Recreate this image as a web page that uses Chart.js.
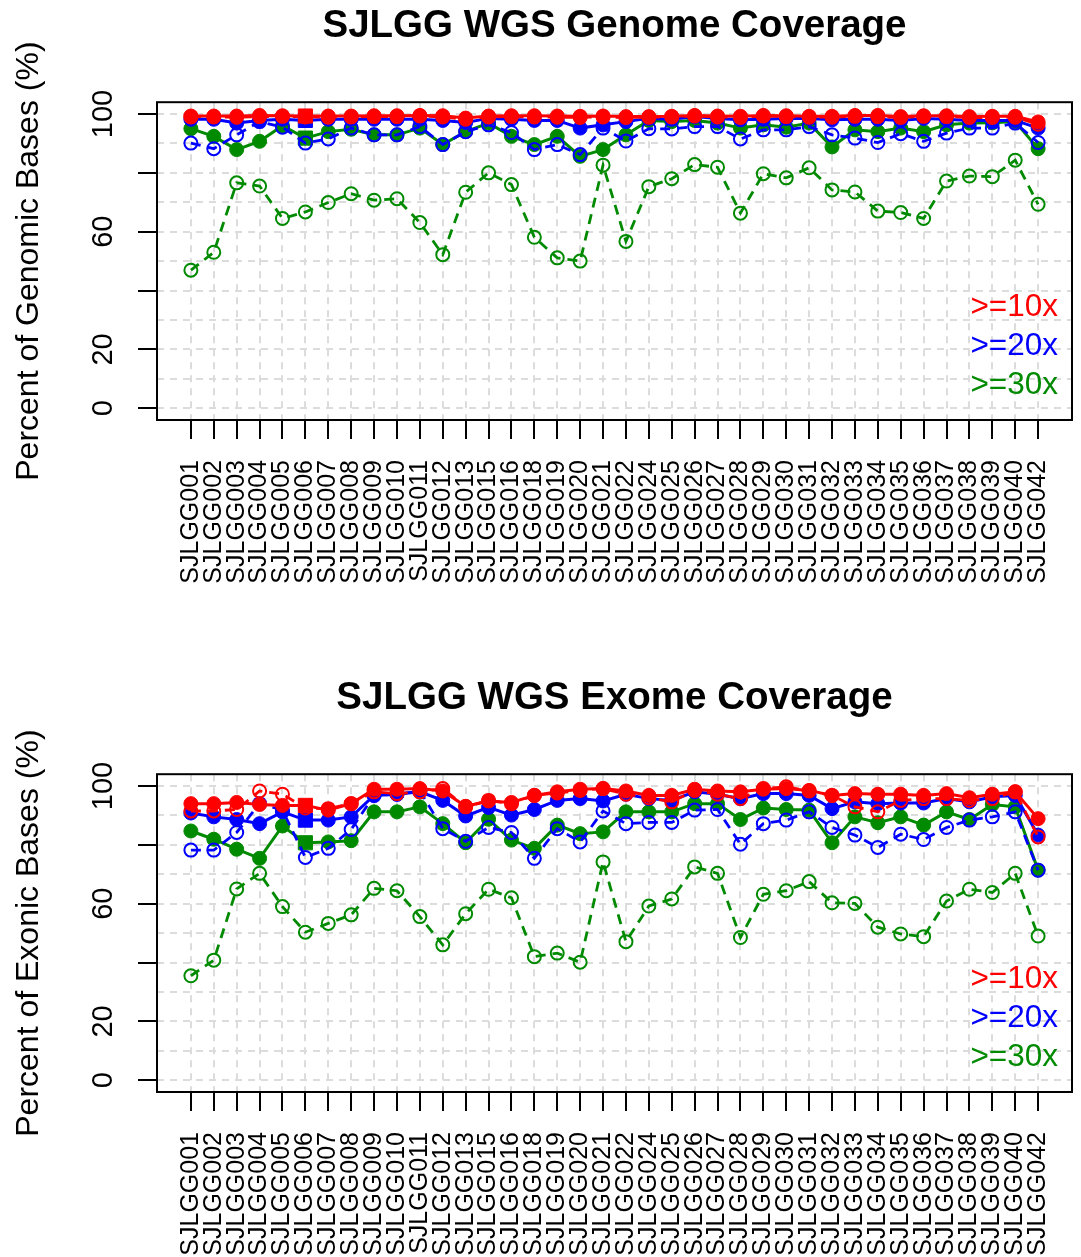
<!DOCTYPE html>
<html>
<head>
<meta charset="utf-8">
<script src="https://cdn.jsdelivr.net/npm/chart.js@4.4.0/dist/chart.umd.min.js"></script>
<style>
  html, body { margin: 0; padding: 0; background: #fff; overflow: hidden; }
  body { width: 1081px; height: 1257px; position: relative; }
  .panel { position: absolute; left: 0; width: 1081px; height: 672px; }
</style>
</head>
<body>
<div class="panel" style="top:0"><canvas id="genomeChart"></canvas></div>
<div class="panel" style="top:672px"><canvas id="exomeChart"></canvas></div>
<script>
// samples on the x axis
const samples = ['SJLGG001', 'SJLGG002', 'SJLGG003', 'SJLGG004', 'SJLGG005', 'SJLGG006', 'SJLGG007', 'SJLGG008',
  'SJLGG009', 'SJLGG010', 'SJLGG011', 'SJLGG012', 'SJLGG013', 'SJLGG015', 'SJLGG016', 'SJLGG018', 'SJLGG019',
  'SJLGG020', 'SJLGG021', 'SJLGG022', 'SJLGG024', 'SJLGG025', 'SJLGG026', 'SJLGG027', 'SJLGG028', 'SJLGG029',
  'SJLGG030', 'SJLGG031', 'SJLGG032', 'SJLGG033', 'SJLGG034', 'SJLGG035', 'SJLGG036', 'SJLGG037', 'SJLGG038',
  'SJLGG039', 'SJLGG040', 'SJLGG042'];

// genome coverage (solid = filled points, dashed = open points)
const genome10 = [99.3, 99.3, 99.3, 99.5, 99.4, 99.3, 99.3, 99.3, 99.4, 99.4, 99.5, 99.4, 98.6, 99.3, 99.4, 99.4, 99.3, 99.2, 99.3,
  99.1, 99.1, 99.2, 99.5, 99.3, 99.2, 99.5, 99.4, 99.2, 99.2, 99.5, 99.5, 99.1, 99.4, 99.4, 99.1, 99.2, 99.2, 97.3];
const genome10b = [99.0, 99.0, 98.9, 99.1, 99.2, 99.0, 98.9, 99.0, 99.1, 99.1, 99.3, 99.0, 98.2, 99.0, 99.1, 99.0, 98.9, 98.8, 99.0,
  98.8, 98.9, 99.0, 99.3, 99.0, 98.8, 99.3, 99.1, 98.9, 98.9, 99.2, 99.1, 98.8, 99.2, 99.1, 98.8, 98.8, 98.9, 96.5];
const genome20 = [98.2, 98.2, 96.9, 97.8, 98.2, 97.8, 98.2, 98.2, 98.2, 98.2, 98.2, 97.8, 97.1, 98.5, 98.2, 97.8, 97.8, 95.2, 96.3,
  97.4, 98.5, 98.2, 99.1, 98.5, 98.0, 98.2, 98.5, 98.5, 98.0, 98.2, 98.2, 97.8, 98.5, 98.2, 97.8, 97.8, 97.8, 95.2];
const genome20b = [90.1, 88.2, 92.9, 97.4, 95.5, 90.1, 91.5, 95.2, 92.9, 92.9, 95.7, 89.6, 94.0, 96.3, 93.7, 87.9, 89.6, 86.2, 95.2,
  90.8, 95.0, 94.9, 95.7, 95.7, 91.5, 94.6, 94.6, 95.7, 92.9, 91.8, 90.3, 93.3, 90.7, 93.5, 95.2, 95.2, 96.9, 90.3];
const genome30 = [95.0, 92.4, 87.9, 90.7, 96.0, 91.8, 94.0, 94.8, 92.9, 92.9, 95.2, 89.6, 94.0, 96.9, 92.4, 89.6, 92.4, 85.6, 87.9,
  92.9, 97.8, 97.4, 97.8, 96.9, 95.2, 96.3, 95.5, 96.9, 88.8, 94.6, 94.0, 95.2, 94.0, 96.3, 96.9, 97.0, 97.4, 88.2];
const genome30b = [46.9, 53.0, 76.6, 75.5, 64.5, 66.7, 69.9, 72.9, 70.7, 71.2, 63.1, 52.2, 73.4, 80.0, 76.0, 58.1, 51.1, 50.0, 82.6,
  56.7, 75.3, 78.0, 82.8, 81.9, 66.3, 79.7, 78.3, 81.7, 74.2, 73.5, 67.0, 66.5, 64.5, 77.2, 78.9, 78.7, 84.3, 69.3];

// exome coverage
const exome10 = [94.0, 94.0, 94.4, 93.7, 93.4, 93.4, 91.8, 94.0, 98.9, 98.9, 99.1, 98.3, 93.1, 94.9, 94.4, 96.8, 98.0, 98.9, 99.1,
  98.3, 96.8, 96.8, 98.9, 98.3, 98.0, 98.9, 99.1, 98.5, 96.8, 97.4, 97.2, 97.2, 96.8, 97.4, 96.0, 97.2, 98.0, 88.9];
const exome10b = [91.5, 91.5, 92.0, 98.3, 97.2, 92.5, 92.3, 94.0, 98.0, 97.4, 98.0, 99.1, 92.9, 95.1, 94.0, 96.8, 97.6, 98.5, 99.1,
  97.2, 96.0, 94.6, 98.5, 97.2, 95.7, 99.1, 99.7, 98.3, 96.8, 92.9, 91.2, 95.1, 95.7, 95.7, 95.1, 95.7, 98.0, 82.7];
const exome20 = [90.8, 89.5, 88.6, 87.2, 91.2, 88.4, 88.4, 89.5, 96.8, 97.2, 98.0, 95.1, 89.8, 92.7, 90.1, 92.0, 95.1, 95.7, 94.9,
  97.2, 95.7, 95.1, 98.0, 97.2, 95.7, 97.4, 97.4, 96.8, 92.3, 94.6, 94.0, 94.2, 94.2, 95.7, 94.6, 96.3, 96.8, 83.3];
const exome20b = [78.2, 78.2, 84.2, 94.0, 91.8, 75.7, 78.8, 85.2, 96.8, 97.2, 98.3, 85.5, 81.2, 85.9, 84.2, 75.4, 85.5, 81.0, 91.5,
  87.2, 87.6, 87.6, 91.8, 92.0, 80.2, 87.2, 88.4, 91.2, 85.9, 83.3, 79.1, 83.6, 81.8, 85.9, 88.4, 89.5, 91.2, 71.4];
const exome30 = [84.7, 81.9, 78.5, 75.4, 86.4, 80.7, 81.0, 81.4, 91.2, 91.2, 92.9, 87.2, 80.7, 88.7, 81.6, 78.8, 86.7, 83.8, 84.4,
  91.2, 91.2, 91.2, 94.0, 94.0, 88.6, 92.5, 92.0, 91.8, 80.7, 89.5, 87.5, 89.5, 86.7, 91.2, 88.6, 93.7, 92.9, 71.4];
const exome30b = [35.5, 40.8, 65.0, 70.3, 59.0, 50.3, 53.3, 56.2, 65.2, 64.4, 55.6, 46.0, 56.6, 64.9, 62.0, 42.0, 43.2, 40.1, 74.2,
  47.1, 59.2, 61.6, 72.5, 70.3, 48.5, 63.2, 64.4, 67.5, 60.3, 60.1, 52.0, 49.7, 48.8, 60.9, 64.9, 63.8, 70.3, 49.0];

// axis stuff
const yGridLines = [0, 10, 20, 30, 40, 50, 60, 70, 80, 90, 100];
const yTickMarks = [0, 20, 40, 60, 80, 100];
const yTickLabels = [0, 20, 60, 100];
const legendLabels = ['>=10x', '>=20x', '>=30x'];
const squarePoints = [5]; // SJLGG006 drawn with squares on the solid lines

const RED = '#ff0000';
const BLUE = '#0000ff';
const GREEN = '#008a00';
const GRID = '#dcdcdc';

Chart.defaults.font.family = "'Liberation Sans', Arial, Helvetica, sans-serif";
Chart.defaults.color = '#000';

function toPoints(values) {
  return values.map((v, i) => ({ x: i, y: v }));
}

function solidSet(label, values, color) {
  return {
    label: label,
    data: toPoints(values),
    borderColor: color,
    backgroundColor: color,
    borderWidth: 3,
    pointStyle: ctx => squarePoints.includes(ctx.dataIndex) ? 'rect' : 'circle',
    pointRadius: ctx => squarePoints.includes(ctx.dataIndex) ? 10 : 7,
    pointBackgroundColor: color,
    pointBorderColor: color,
    pointBorderWidth: 1,
    tension: 0
  };
}

function dashedSet(label, values, color) {
  return {
    label: label,
    data: toPoints(values),
    borderColor: color,
    backgroundColor: 'rgba(0,0,0,0)',
    borderWidth: 2.8,
    borderDash: [10, 7],
    pointRadius: 6.5,
    pointBackgroundColor: 'rgba(0,0,0,0)',
    pointBorderColor: color,
    pointBorderWidth: 2,
    tension: 0
  };
}

// box around plot + text legend
const rBox = {
  id: 'rBox',
  afterDraw(chart) {
    const a = chart.chartArea;
    const c = chart.ctx;
    c.save();
    c.strokeStyle = '#000';
    c.lineWidth = 2;
    c.strokeRect(a.left, a.top, a.right - a.left, a.bottom - a.top);
    c.font = "31.5px 'Liberation Sans', Arial, sans-serif";
    c.textAlign = 'right';
    c.textBaseline = 'middle';
    const colors = [RED, BLUE, GREEN];
    const offs = [113, 74, 35];
    legendLabels.forEach(function(txt, i) {
      c.fillStyle = colors[i];
      c.fillText(txt, a.right - 14, a.bottom - offs[i]);
    });
    c.restore();
  }
};

function makeChart(id, title, yTitle, s) {
  const ctx = document.getElementById(id).getContext('2d');
  return new Chart(ctx, {
    type: 'line',
    data: {
      datasets: [
        dashedSet('10x', s[1], RED),
        solidSet('10x', s[0], RED),
        dashedSet('20x', s[3], BLUE),
        solidSet('20x', s[2], BLUE),
        dashedSet('30x', s[5], GREEN),
        solidSet('30x', s[4], GREEN)
      ]
    },
    options: {
      responsive: true,
      maintainAspectRatio: false,
      animation: false,
      devicePixelRatio: 1,
      layout: { padding: { left: 0, right: 9, top: 0, bottom: 0 } },
      plugins: {
        legend: { display: false },
        tooltip: { enabled: false },
        title: {
          display: true,
          text: title,
          fullSize: false,
          color: '#000',
          font: { size: 38.5, weight: 'bold' },
          padding: { top: 3, bottom: 53 }
        }
      },
      scales: {
        x: {
          type: 'linear',
          min: -1.48,
          max: samples.length - 1 + 1.48,
          z: 1,
          afterBuildTicks: scale => { scale.ticks = samples.map((_, i) => ({ value: i })); },
          afterFit: scale => {
            scale.height = 252;
            scale.paddingLeft = 0;
            scale.paddingRight = 0;
          },
          ticks: {
            autoSkip: false,
            minRotation: 90,
            maxRotation: 90,
            padding: 21,
            color: '#000',
            font: { size: 25 },
            callback: v => samples[v]
          },
          grid: {
            color: GRID,
            lineWidth: 2,
            tickLength: 19,
            tickWidth: 2,
            tickColor: '#000',
            tickBorderDash: []
          },
          border: { display: false, dash: [7, 6] }
        },
        y: {
          type: 'linear',
          min: -4,
          max: 104,
          z: 1,
          afterBuildTicks: scale => { scale.ticks = yGridLines.map(v => ({ value: v })); },
          afterFit: scale => { scale.width = 157; },
          ticks: {
            autoSkip: false,
            minRotation: 90,
            maxRotation: 90,
            crossAlign: 'center',
            padding: 10,
            color: '#000',
            font: { size: 29 },
            callback: v => yTickLabels.includes(v) ? String(v) : ''
          },
          grid: {
            color: GRID,
            lineWidth: 2,
            tickLength: 19,
            tickWidth: 2,
            tickBorderDash: [],
            tickColor: c => (c.tick && yTickMarks.includes(c.tick.value)) ? '#000' : 'rgba(0,0,0,0)'
          },
          border: { display: false, dash: [7, 6] },
          title: {
            display: true,
            text: yTitle,
            color: '#000',
            font: { size: 32 },
            padding: { top: 10, bottom: 0 }
          }
        }
      }
    },
    plugins: [rBox]
  });
}

makeChart('genomeChart', 'SJLGG WGS Genome Coverage', 'Percent of Genomic Bases (%)',
  [genome10, genome10b, genome20, genome20b, genome30, genome30b]);
makeChart('exomeChart', 'SJLGG WGS Exome Coverage', 'Percent of Exonic Bases (%)',
  [exome10, exome10b, exome20, exome20b, exome30, exome30b]);
</script>
</body>
</html>
